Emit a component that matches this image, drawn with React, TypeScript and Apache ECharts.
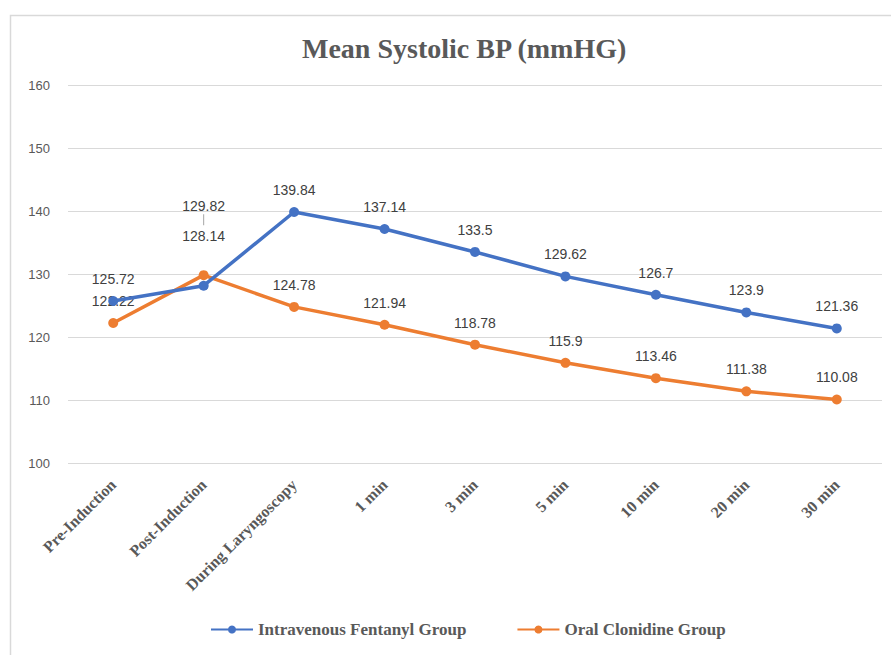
import React, { useEffect, useRef } from "react";
import * as echarts from "echarts";

const categories = [
  "Pre-Induction",
  "Post-Induction",
  "During Laryngoscopy",
  "1 min",
  "3 min",
  "5 min",
  "10 min",
  "20 min",
  "30 min",
];

const fentanylValues = [125.72, 128.14, 139.84, 137.14, 133.5, 129.62, 126.7, 123.9, 121.36];
const clonidineValues = [122.22, 129.82, 124.78, 121.94, 118.78, 115.9, 113.46, 111.38, 110.08];

const seriesNames = ["Intravenous Fentanyl Group", "Oral Clonidine Group"];
const yTicks = { min: 100, max: 160, interval: 10 };

const BLUE = "#4472C4";
const ORANGE = "#ED7D31";
const SERIF = "'Liberation Serif', 'DejaVu Serif', serif";
const SANS = "'Liberation Sans', 'DejaVu Sans', sans-serif";

export default function App() {
  const ref = useRef<HTMLDivElement | null>(null);

  useEffect(() => {
    if (!ref.current) return;
    const chart = echarts.init(ref.current, undefined, { renderer: "svg" });

    const labelBase = {
      show: true,
      position: "top",
      distance: 10,
      color: "#404040",
      fontSize: 14,
      fontFamily: SANS,
    };

    // Post-Induction labels are lifted to keep them apart; the orange one gets a leader tick.
    const fentanylData = fentanylValues.map((v, i) =>
      i === 1 ? { value: v, label: { distance: 38 } } : v
    );
    const clonidineData = clonidineValues.map((v, i) =>
      i === 1
        ? {
            value: v,
            label: {
              distance: 45,
              formatter: "{v|{c}}\n{bar|}",
              rich: {
                v: { color: "#404040", fontSize: 14, fontFamily: SANS, lineHeight: 17 },
                bar: { width: 1, height: 11, backgroundColor: "#a6a6a6" },
              },
            },
          }
        : v
    );

    chart.setOption({
      animation: false,
      backgroundColor: "#ffffff",
      title: {
        text: "Mean Systolic BP (mmHG)",
        left: 297,
        top: 29,
        textStyle: {
          fontFamily: SERIF,
          fontSize: 28,
          fontWeight: "bold",
          color: "#595959",
        },
      },
      graphic: [
        {
          type: "rect",
          silent: true,
          shape: { x: 10.5, y: 15.5, width: 900, height: 700 },
          style: { fill: "none", stroke: "#d9d9d9", lineWidth: 1.5 },
        },
      ],
      grid: { left: 68, right: 9, top: 85, bottom: 192 },
      xAxis: {
        type: "category",
        data: categories,
        boundaryGap: true,
        axisLine: { show: false },
        axisTick: { show: false },
        axisLabel: {
          rotate: 45,
          interval: 0,
          margin: 19,
          color: "#595959",
          fontFamily: SERIF,
          fontSize: 16,
          fontWeight: "bold",
        },
      },
      yAxis: {
        type: "value",
        min: yTicks.min,
        max: yTicks.max,
        interval: yTicks.interval,
        axisLine: { show: false },
        axisTick: { show: false },
        splitLine: { lineStyle: { color: "#d9d9d9", width: 1 } },
        axisLabel: { color: "#595959", fontFamily: SANS, fontSize: 13, margin: 18 },
      },
      legend: {
        bottom: 12,
        left: 205,
        itemWidth: 42,
        itemHeight: 10,
        itemGap: 50,
        textStyle: { color: "#595959", fontFamily: SERIF, fontSize: 17, fontWeight: "bold" },
        data: seriesNames,
      },
      series: [
        {
          name: seriesNames[0],
          type: "line",
          data: fentanylData,
          symbol: "circle",
          symbolSize: 10,
          color: BLUE,
          lineStyle: { width: 3.5, color: BLUE },
          itemStyle: { color: BLUE },
          label: labelBase,
          z: 3,
        },
        {
          name: seriesNames[1],
          type: "line",
          data: clonidineData,
          symbol: "circle",
          symbolSize: 10,
          color: ORANGE,
          lineStyle: { width: 3.5, color: ORANGE },
          itemStyle: { color: ORANGE },
          label: labelBase,
          z: 2,
        },
      ],
    });

    return () => chart.dispose();
  }, []);

  return (
    <div
      ref={ref}
      style={{ position: "absolute", left: 0, top: 0, width: 891, height: 655 }}
    />
  );
}
